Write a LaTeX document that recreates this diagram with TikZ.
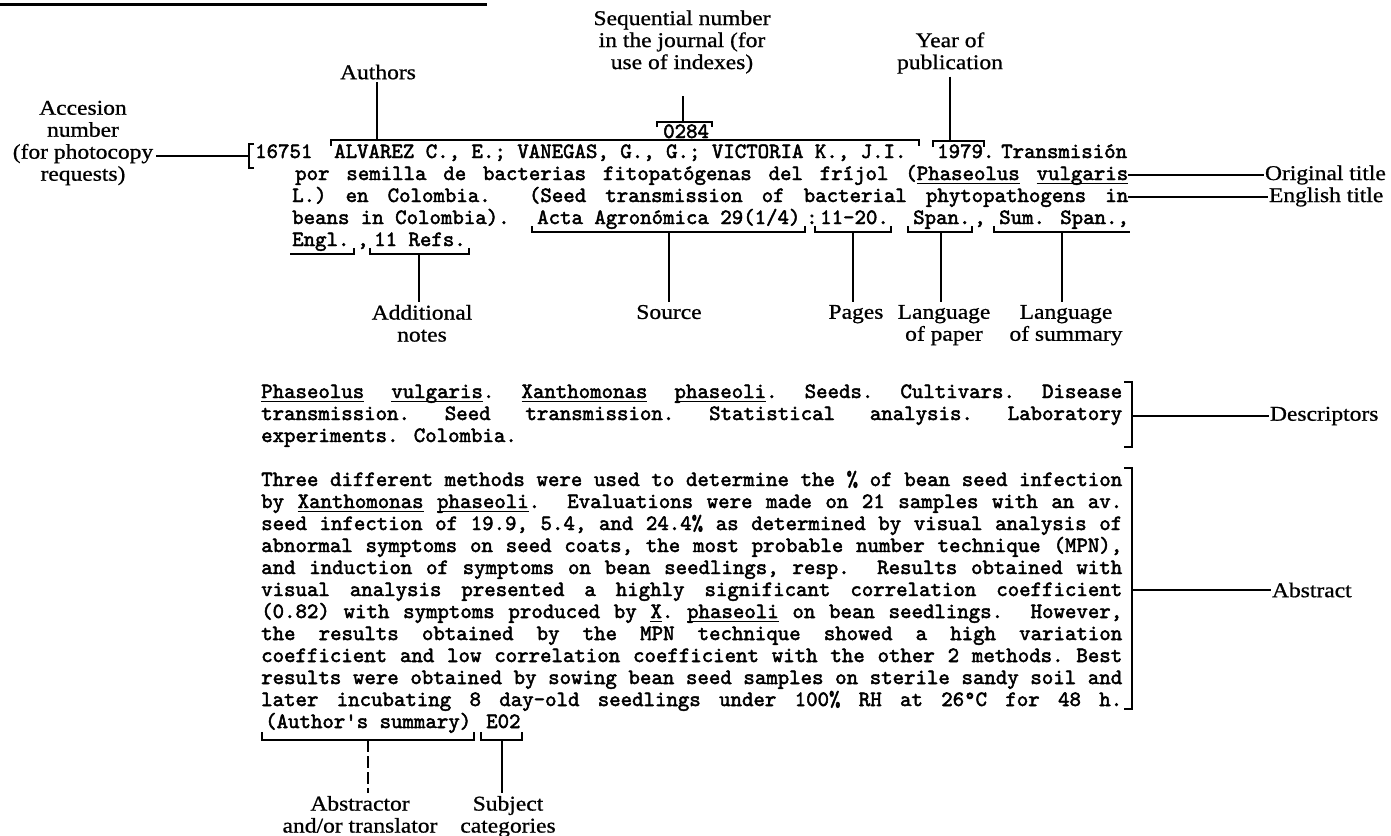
\documentclass[tikz,border=0pt]{standalone}
\usepackage{fontspec}
\newfontfamily\labfont[FakeStretch=1.12,FakeBold=0.8]{Liberation Serif}
\newfontfamily\twfont[FakeBold=2.2]{lmmono10-regular.otf}
\newcommand{\jl}[2]{\makebox[#1][s]{\frenchspacing\setbox0\hbox{x}\spaceskip=\wd0 plus 1fil\relax #2}}
\newcommand{\ul}[1]{\leavevmode\setbox2\hbox{#1}\rlap{\rule[-4pt]{\wd2}{1.2pt}}\box2\relax}
\tikzset{
  lbl/.style={font={\labfont\fontsize{21}{22}\selectfont}, align=center, inner sep=0pt, outer sep=3pt},
  rlbl/.style={lbl, anchor=west, outer sep=1pt},
  txt/.style={font={\twfont\fontsize{21.8}{22}\selectfont}, anchor=base west, inner sep=0pt},
  con/.style={line width=1.6pt},
  brk/.style={line width=1.4pt},
}
\begin{document}
\begin{tikzpicture}[x=1pt,y=-1pt]
\useasboundingbox (0,0) rectangle (1391,835);
% top rule
\coordinate (r0) at (0,4); \coordinate (r1) at (487,4);
\draw[line width=3pt] (r0) -- (r1);

% ---------- top labels
\node[lbl] (seq) at (682,42) {Sequential number\\in the journal (for\\use of indexes)};
\node[lbl] (authl) at (378,72) {Authors};
\node[lbl] (year) at (950,53) {Year of\\publication};
\node[lbl] (acc) at (83,143) {Accesion\\number\\(for photocopy\\requests)};

% ---------- line 0
\node[txt] (n0284) at (663,138) {0284};
\draw[brk] (657,127) -- (657,122) -- (712,122) -- (712,127);
\coordinate (c0284) at (683,122);
\coordinate (seqend) at (683,96);
\draw[con] (seqend) -- (c0284);

% ---------- line 1
\node[txt] (n16751) at (255,158) {16751};
\node[txt] (authors) at (334,158) {ALVAREZ C., E.; VANEGAS, G., G.; VICTORIA K., J.I.};
\node[txt] (yr) at (937,158) {1979.};
\node[txt] (trans) at (1001,158) {Transmisión};
\draw[brk] (254,144) -- (249,144) -- (249,168) -- (254,168);
\coordinate (cacc) at (249,156);
\draw[con] (acc.east |- cacc) -- (cacc);
\draw[brk] (331,146) -- (331,140) -- (919,140) -- (919,146);
\coordinate (cauth) at (377,140);
\draw[con] (authl.south -| cauth) -- (cauth);
\draw[brk] (933,147) -- (933,141) -- (984,141) -- (984,147);
\coordinate (cyear) at (950,141);
\draw[con] (year.south -| cyear) -- (cyear);

% ---------- lines 2, 3
\node[txt] (l2) at (295,180) {\jl{833pt}{por semilla de bacterias fitopatógenas del fríjol (\ul{Phaseolus} \ul{vulgaris}}};
\node[txt] (l3) at (292,202) {\jl{836pt}{L.) en Colombia.\ \ (Seed transmission of bacterial phytopathogens in}};
\node[rlbl] (otl) at (1264,175) {Original title};
\node[rlbl] (etl) at (1268,197) {English title};
\draw[con] (l2.east |- otl.west) -- (otl.west);
\draw[con] (l3.east |- etl.west) -- (etl.west);

% ---------- line 4
\node[txt] (l4a) at (292,224) {beans in Colombia).};
\node[txt] (src) at (537,224) {Acta Agronómica 29(1/4)};
\node[txt] (colon) at (806,224) {:};
\node[txt] (pg) at (820,224) {11-20.};
\node[txt] (spn) at (913,224) {Span.};
\node[txt] (comma1) at (974,224) {,};
\node[txt] (sum) at (999,224) {Sum. Span.,};
\draw[brk] (532,226) -- (532,232) -- (805,232) -- (805,226);
\draw[brk] (815,226) -- (815,232) -- (891,232) -- (891,226);
\draw[brk] (908,226) -- (908,232) -- (972,232) -- (972,226);
\draw[brk] (994,226) -- (994,232) -- (1130,232);
\coordinate (csrc) at (669,232);
\coordinate (cpg) at (853,232);
\coordinate (cspn) at (941,232);
\coordinate (csum) at (1062,232);

% ---------- line 5
\node[txt] (engl) at (292,246) {Engl.};
\node[txt] (comma2) at (357,246) {,};
\node[txt] (refs) at (374,246) {11 Refs.};
\draw[brk] (290,254) -- (354,254) -- (354,248);
\draw[brk] (370,248) -- (370,254) -- (469,254) -- (469,248);
\coordinate (cref) at (419,254);

% ---------- labels under the citation
\node[lbl, anchor=north] (addl) at (422,302) {Additional\\notes};
\node[lbl, anchor=north] (srcl) at (669,302) {Source};
\node[lbl, anchor=north] (pgl) at (856,302) {Pages};
\node[lbl, anchor=north] (lpl) at (944,302) {Language\\of paper};
\node[lbl, anchor=north] (lsl) at (1066,302) {Language\\of summary};
\draw[con] (cref) -- (cref |- addl.north);
\draw[con] (csrc) -- (csrc |- srcl.north);
\draw[con] (cpg) -- (cpg |- pgl.north);
\draw[con] (cspn) -- (cspn |- lpl.north);
\draw[con] (csum) -- (csum |- lsl.north);

% ---------- descriptors
\node[txt] (d1) at (261,398) {\jl{861pt}{\ul{Phaseolus} \ul{vulgaris}. \ul{Xanthomonas} \ul{phaseoli}. Seeds. Cultivars. Disease}};
\node[txt] (d2) at (261,420) {\jl{861pt}{transmission. Seed transmission. Statistical analysis. Laboratory}};
\node[txt] (d3) at (261,442) {experiments. Colombia.};
\draw[brk] (1124,382) -- (1132,382) -- (1132,447) -- (1124,447);
\coordinate (cdesc) at (1132,416);
\node[rlbl] (descl) at (1269,416) {Descriptors};
\draw[con] (cdesc) -- (descl.west);

% ---------- abstract
\node[txt] (a1) at (261,486) {\jl{861pt}{Three different methods were used to determine the \% of bean seed infection}};
\node[txt] (a2) at (261,508) {\jl{861pt}{by \ul{Xanthomonas} \ul{phaseoli}.\ \ Evaluations were made on 21 samples with an av.}};
\node[txt] (a3) at (261,530) {\jl{861pt}{seed infection of 19.9, 5.4, and 24.4\% as determined by visual analysis of}};
\node[txt] (a4) at (261,552) {\jl{861pt}{abnormal symptoms on seed coats, the most probable number technique (MPN),}};
\node[txt] (a5) at (261,574) {\jl{861pt}{and induction of symptoms on bean seedlings, resp.\ \ Results obtained with}};
\node[txt] (a6) at (261,596) {\jl{861pt}{visual analysis presented a highly significant correlation coefficient}};
\node[txt] (a7) at (261,618) {\jl{861pt}{(0.82) with symptoms produced by \ul{X}. \ul{phaseoli} on bean seedlings.\ \ However,}};
\node[txt] (a8) at (261,640) {\jl{861pt}{the results obtained by the MPN technique showed a high variation}};
\node[txt] (a9) at (261,662) {\jl{861pt}{coefficient and low correlation coefficient with the other 2 methods. Best}};
\node[txt] (a10) at (261,684) {\jl{861pt}{results were obtained by sowing bean seed samples on sterile sandy soil and}};
\node[txt] (a11) at (261,706) {\jl{861pt}{later incubating 8 day-old seedlings under 100\% RH at 26°C for 48 h.}};
\draw[brk] (1124,468) -- (1132,468) -- (1132,709) -- (1124,709);
\coordinate (cabs) at (1132,590);
\node[rlbl] (absl) at (1271,590) {Abstract};
\draw[con] (cabs) -- (absl.west);

% ---------- last line
\node[txt] (auths) at (265,728) {(Author's summary)};
\node[txt] (e02) at (486,728) {E02};
\draw[brk] (262,732) -- (262,740) -- (474,740) -- (474,732);
\draw[brk] (481,732) -- (481,740) -- (522,740) -- (522,732);
\coordinate (cas) at (368,740);
\coordinate (ce02) at (502,740);
\node[lbl, anchor=north] (abtr) at (360,793) {Abstractor\\and/or translator};
\node[lbl, anchor=north] (subj) at (508,793) {Subject\\categories};
\draw[con, dash pattern=on 12pt off 4pt] (cas) -- (cas |- abtr.north);
\draw[con] (ce02) -- (ce02 |- subj.north);
\end{tikzpicture}
\end{document}
